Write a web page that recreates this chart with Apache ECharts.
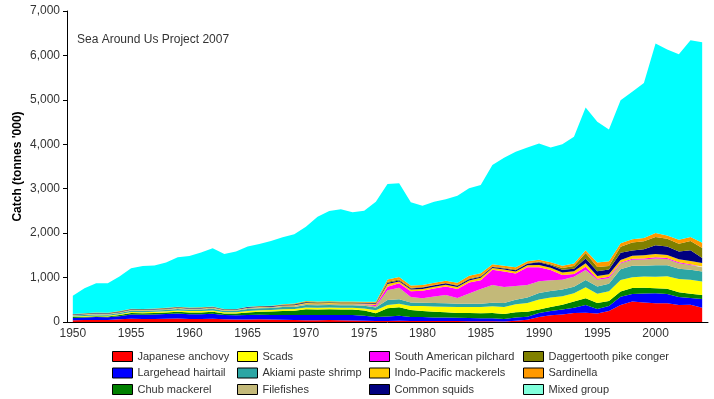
<!DOCTYPE html>
<html>
<head>
<meta charset="utf-8">
<script src="https://cdn.jsdelivr.net/npm/echarts@6/dist/echarts.min.js"></script>
<style>
  html, body { margin: 0; padding: 0; background: #fff; }
  #chart { width: 714px; height: 399px; }
</style>
</head>
<body>
<div id="chart"></div>
<script>
// years 1950 - 2004
const years = []
for (let y = 1950; y <= 2004; y++) years.push(String(y))

const yTicks = [0, 1000, 2000, 3000, 4000, 5000, 6000, 7000]

// catch, tonnes '000 (stacked bottom to top)
const japaneseAnchovy = [40,45,45,45,60,75,70,70,75,80, 70,70,75,60,55,55,60,55,50,45, 40,40,45,40,35,30,20,25,30,20, 20,20,20,20,15,15,15,10,30,50, 110,150,170,200,210,190,250,380,460,440, 420,420,380,390,320]
const largeheadHairtail = [50,55,65,60,70,95,95,100,105,110, 105,105,110,95,95,105,105,105,110,110, 115,115,115,115,120,110,95,100,110,90, 90,80,80,75,75,70,70,60,70,70, 90,100,110,120,170,100,110,190,170,200, 225,210,180,150,200]
const chubMackerel = [20,20,20,20,25,30,30,35,35,40, 40,40,45,35,40,55,65,75,90,100, 130,125,125,125,125,120,80,185,190,160, 140,130,120,110,110,110,120,110,120,110, 80,90,110,140,155,135,110,115,135,130, 115,120,110,95,90]
const scads = [15,15,15,15,20,25,25,25,25,30, 30,30,30,30,30,35,35,35,35,35, 40,40,40,40,40,45,70,75,80,90, 110,120,125,130,135,140,150,160,180,200, 225,210,190,185,245,210,220,260,245,255, 260,280,300,315,300]
const akiamiShrimp = [20,25,25,25,25,30,30,30,30,35, 30,35,40,30,35,45,45,45,50,50, 55,55,55,55,55,60,60,110,100,80, 75,75,75,75,75,75,80,90,100,120, 150,150,150,150,165,165,170,240,255,240, 260,250,230,225,225]
const filefishes = [10,10,15,15,15,15,15,15,20,20, 20,20,20,15,15,20,20,20,25,25, 30,30,30,30,30,30,30,220,260,120, 100,150,190,130,230,330,400,360,310,280, 260,240,220,225,225,150,125,135,135,140, 150,140,125,110,100]
const saPilchard = [0,0,0,0,0,0,0,0,0,0, 0,0,0,0,0,0,0,0,0,0, 0,0,0,0,0,5,30,80,100,130, 170,180,190,200,250,200,340,345,280,400, 320,230,110,60,75,25,35,20,25,25, 25,20,20,15,15]
const indoPacificMackerels = [5,5,5,5,5,5,5,5,5,5, 5,5,5,5,5,5,5,5,10,10, 15,15,15,15,15,15,20,60,40,40, 40,40,40,45,45,55,40,45,45,45, 50,50,55,60,75,60,55,55,65,70, 75,70,70,75,80]
const commonSquids = [10,10,10,10,10,10,10,10,10,10, 10,10,10,10,10,15,15,15,15,20, 20,15,15,15,15,15,15,30,25,25, 30,30,30,30,30,25,22,25,30,35, 60,60,60,60,110,110,105,165,120,140, 200,190,170,240,110]
const daggertoothPikeConger = [5,5,10,10,10,10,10,10,10,10, 10,10,10,5,5,5,5,5,5,10, 15,10,10,10,10,10,15,20,20,15, 10,10,10,15,15,15,15,15,15,15, 15,20,40,60,125,95,80,135,180,180, 185,175,175,210,225]
const sardinella = [5,5,5,5,5,5,5,5,5,5, 5,5,5,5,5,5,5,5,10,10, 15,15,15,15,15,15,20,50,60,50, 50,50,50,55,60,60,50,45,50,45, 40,45,50,55,60,100,110,75,75,70, 90,70,90,90,120]
const mixedGroup = [409,567,655,660,778,911,968,965,1017,1113, 1163,1232,1310,1243,1290,1352,1397,1460,1508,1560, 1671,1911,2034,2077,2010,2051,2253,2151,2106,1874, 1783,1823,1832,1958,1969,1988,2231,2432,2601,2560, 2620,2585,2733,2854,3214,3166,2965,3223,3315,3492, 4262,4188,4177,4427,4512]

const seriesList = [
  { name: 'Japanese anchovy', data: japaneseAnchovy, color: '#ff0000' },
  { name: 'Largehead hairtail', data: largeheadHairtail, color: '#0000ff' },
  { name: 'Chub mackerel', data: chubMackerel, color: '#008000' },
  { name: 'Scads', data: scads, color: '#ffff00' },
  { name: 'Akiami paste shrimp', data: akiamiShrimp, color: '#2ca6a4' },
  { name: 'Filefishes', data: filefishes, color: '#c3b979' },
  { name: 'South American pilchard', data: saPilchard, color: '#ff00ff' },
  { name: 'Indo-Pacific mackerels', data: indoPacificMackerels, color: '#ffcc00' },
  { name: 'Common squids', data: commonSquids, color: '#000080' },
  { name: 'Daggertooth pike conger', data: daggertoothPikeConger, color: '#808000' },
  { name: 'Sardinella', data: sardinella, color: '#ff9900' },
  { name: 'Mixed group', data: mixedGroup, color: '#00ffff', legendColor: '#80ffdb' }
]

const font = 'Liberation Sans, Arial, Helvetica, sans-serif'

// 4 legend columns, 3 rows each
const legendCols = [112, 237, 369, 523]
const legends = legendCols.map((left, c) => ({
  orient: 'vertical',
  left: left,
  top: 351,
  height: 60,
  padding: 0,
  itemWidth: 20,
  itemHeight: 10,
  itemGap: 5.5,
  icon: 'rect',
  selectedMode: false,
  textStyle: { fontFamily: font, fontSize: 11, color: '#333' },
  itemStyle: { borderColor: '#000', borderWidth: 1 },
  data: seriesList.slice(c * 3, c * 3 + 3).map(s => ({
    name: s.name,
    itemStyle: { color: s.legendColor || s.color }
  }))
}))

const option = {
  animation: false,
  backgroundColor: '#fff',
  textStyle: { fontFamily: font },
  grid: { left: 67, right: 6, top: 11, bottom: 77 },
  graphic: [
    {
      type: 'text',
      left: 77,
      top: 34,
      style: { text: 'Sea Around Us Project 2007', fontFamily: font, fontSize: 12, fill: '#333' }
    }
  ],
  legend: legends,
  xAxis: {
    type: 'category',
    boundaryGap: true,
    data: years,
    axisLine: { lineStyle: { color: '#000', width: 1 } },
    axisTick: { interval: 4, alignWithLabel: true, length: 4, lineStyle: { color: '#000' } },
    axisLabel: { interval: 4, color: '#333', fontSize: 12, fontFamily: font, margin: 6 },
    splitLine: { show: false }
  },
  yAxis: {
    type: 'value',
    min: yTicks[0],
    max: yTicks[yTicks.length - 1],
    interval: 1000,
    name: "Catch (tonnes '000)",
    nameLocation: 'middle',
    nameGap: 43,
    nameMoveOverlap: false,
    nameTextStyle: { fontFamily: font, fontSize: 12, fontWeight: 'bold', color: '#000' },
    axisLine: { show: true, lineStyle: { color: '#000', width: 1 } },
    axisTick: { show: true, length: 4, lineStyle: { color: '#000' } },
    axisLabel: {
      color: '#333',
      fontSize: 12,
      fontFamily: font,
      margin: 7,
      formatter: v => v.toLocaleString('en-US')
    },
    splitLine: { show: false }
  },
  series: seriesList.map(s => ({
    name: s.name,
    type: 'line',
    stack: 'catch',
    data: s.data,
    showSymbol: false,
    symbol: 'none',
    lineStyle: { width: 0 },
    itemStyle: { color: s.color },
    areaStyle: { color: s.color, opacity: 1 }
  }))
}

const chart = echarts.init(document.getElementById('chart'))
chart.setOption(option)
</script>
</body>
</html>
